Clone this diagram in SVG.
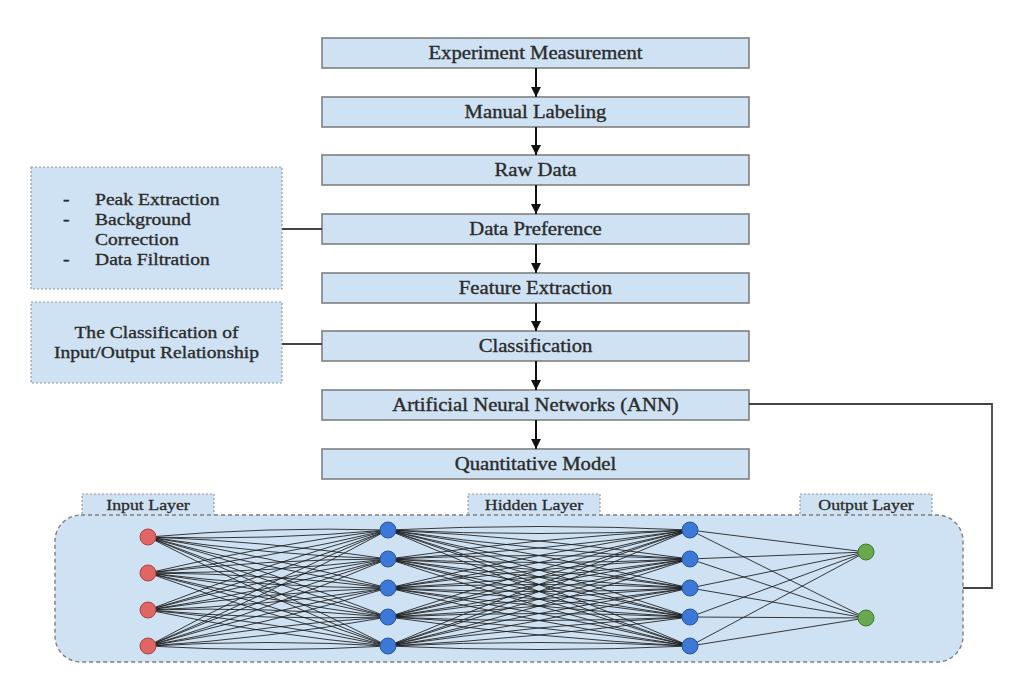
<svg xmlns="http://www.w3.org/2000/svg" width="1022" height="676" viewBox="0 0 1022 676">
<defs>
<marker id="arr" viewBox="0 0 10 10" refX="10" refY="5" markerWidth="10" markerHeight="10" markerUnits="userSpaceOnUse" orient="auto">
<path d="M0 0 L10 5 L0 10 Z" fill="#111"/>
</marker>
<style>
.box{fill:#cfe2f3;stroke:#7f7f7f;stroke-width:1.6}
.note{fill:#cfe2f3;stroke:#9a9a9a;stroke-width:1.2;stroke-dasharray:2 2}
.t{font-family:"Liberation Serif","Times New Roman",serif;font-size:18px;fill:#2b2b2b;stroke:#2b2b2b;stroke-width:0.35;text-anchor:middle}
.n{font-family:"Liberation Serif","Times New Roman",serif;font-size:17.5px;fill:#2b2b2b;stroke:#2b2b2b;stroke-width:0.35}
.l{font-family:"Liberation Serif","Times New Roman",serif;font-size:15.5px;fill:#2b2b2b;stroke:#2b2b2b;stroke-width:0.3;text-anchor:middle}
.arrow{stroke:#111;stroke-width:2;fill:none;marker-end:url(#arr)}
.link{stroke:#444;stroke-width:1.8;fill:none}
.w{stroke:#1a1a1a;stroke-width:1;fill:none;opacity:0.85}
.in{fill:#e06666;stroke:#a94442;stroke-width:1}
.hid{fill:#3c78d8;stroke:#2a5597;stroke-width:1}
.out{fill:#6aa84f;stroke:#3f7a2e;stroke-width:1}
</style>
</defs>
<rect width="1022" height="676" fill="#ffffff"/>

<g id="node-experiment"><rect class="box" x="322" y="38" width="427" height="30"/><text class="t" transform="translate(535.5 59) scale(1.15 1)">Experiment Measurement</text></g>
<g id="node-labeling"><rect class="box" x="322" y="97" width="427" height="30"/><text class="t" transform="translate(535.5 118) scale(1.15 1)">Manual Labeling</text></g>
<g id="node-raw"><rect class="box" x="322" y="155" width="427" height="30"/><text class="t" transform="translate(535.5 176) scale(1.15 1)">Raw Data</text></g>
<g id="node-preference"><rect class="box" x="322" y="214" width="427" height="30"/><text class="t" transform="translate(535.5 235) scale(1.15 1)">Data Preference</text></g>
<g id="node-feature"><rect class="box" x="322" y="273" width="427" height="30"/><text class="t" transform="translate(535.5 294) scale(1.15 1)">Feature Extraction</text></g>
<g id="node-classification"><rect class="box" x="322" y="331" width="427" height="30"/><text class="t" transform="translate(535.5 352) scale(1.15 1)">Classification</text></g>
<g id="node-ann"><rect class="box" x="322" y="390" width="427" height="30"/><text class="t" transform="translate(535.5 411) scale(1.15 1)">Artificial Neural Networks (ANN)</text></g>
<g id="node-quant"><rect class="box" x="322" y="449" width="427" height="30"/><text class="t" transform="translate(535.5 470) scale(1.15 1)">Quantitative Model</text></g>

<g id="note-preprocess">
<rect class="note" x="31" y="167" width="251" height="122"/>
<text class="n" transform="translate(63 205) scale(1.12 1)">-</text>
<text class="n" transform="translate(95 205) scale(1.12 1)">Peak Extraction</text>
<text class="n" transform="translate(63 225) scale(1.12 1)">-</text>
<text class="n" transform="translate(95 225) scale(1.12 1)">Background</text>
<text class="n" transform="translate(95 245) scale(1.12 1)">Correction</text>
<text class="n" transform="translate(63 265) scale(1.12 1)">-</text>
<text class="n" transform="translate(95 265) scale(1.12 1)">Data Filtration</text>
</g>
<g id="note-classification">
<rect class="note" x="31" y="302" width="251" height="81"/>
<text class="n" text-anchor="middle" transform="translate(156.5 338) scale(1.12 1)">The Classification of</text>
<text class="n" text-anchor="middle" transform="translate(156.5 358) scale(1.12 1)">Input/Output Relationship</text>
</g>

<g id="network">
<rect x="82" y="494" width="132" height="22" fill="#cfe2f3" stroke="#9a9a9a" stroke-width="1.2" stroke-dasharray="2 2"/>
<rect x="468" y="494" width="132" height="22" fill="#cfe2f3" stroke="#9a9a9a" stroke-width="1.2" stroke-dasharray="2 2"/>
<rect x="800" y="494" width="132" height="22" fill="#cfe2f3" stroke="#9a9a9a" stroke-width="1.2" stroke-dasharray="2 2"/>
<rect x="55" y="515" width="908" height="147" rx="26" ry="26" fill="#cfe2f3" stroke="#7f7f7f" stroke-width="1.4" stroke-dasharray="4 3"/>
<text class="l" transform="translate(148 510) scale(1.15 1)">Input Layer</text>
<text class="l" transform="translate(534 510) scale(1.15 1)">Hidden Layer</text>
<text class="l" transform="translate(866 510) scale(1.15 1)">Output Layer</text>
<g id="weights">
<path class="w" d="M148 537 Q268 526.5 388 530 M148 537 Q268 540.5 388 530 M148 537 Q268 541 388 559 M148 537 Q268 555 388 559 M148 537 Q268 555.5 388 588 M148 537 Q268 569.5 388 588 M148 537 Q268 570 388 617 M148 537 Q268 584 388 617 M148 537 Q268 584.5 388 646 M148 537 Q268 598.5 388 646"/>
<path class="w" d="M148 573 Q268 544.5 388 530 M148 573 Q268 558.5 388 530 M148 573 Q268 559 388 559 M148 573 Q268 573 388 559 M148 573 Q268 573.5 388 588 M148 573 Q268 587.5 388 588 M148 573 Q268 588 388 617 M148 573 Q268 602 388 617 M148 573 Q268 602.5 388 646 M148 573 Q268 616.5 388 646"/>
<path class="w" d="M148 610 Q268 563 388 530 M148 610 Q268 577 388 530 M148 610 Q268 577.5 388 559 M148 610 Q268 591.5 388 559 M148 610 Q268 592 388 588 M148 610 Q268 606 388 588 M148 610 Q268 606.5 388 617 M148 610 Q268 620.5 388 617 M148 610 Q268 621 388 646 M148 610 Q268 635 388 646"/>
<path class="w" d="M148 646 Q268 581 388 530 M148 646 Q268 595 388 530 M148 646 Q268 595.5 388 559 M148 646 Q268 609.5 388 559 M148 646 Q268 610 388 588 M148 646 Q268 624 388 588 M148 646 Q268 624.5 388 617 M148 646 Q268 638.5 388 617 M148 646 Q268 639 388 646 M148 646 Q268 653 388 646"/>
<path class="w" d="M388 530 Q539 523 690 530 M388 530 Q539 537 690 530 M388 530 Q539 537.5 690 559 M388 530 Q539 551.5 690 559 M388 530 Q539 552 690 588 M388 530 Q539 566 690 588 M388 530 Q539 566.5 690 617 M388 530 Q539 580.5 690 617 M388 530 Q539 581 690 646 M388 530 Q539 595 690 646"/>
<path class="w" d="M388 559 Q539 537.5 690 530 M388 559 Q539 551.5 690 530 M388 559 Q539 552 690 559 M388 559 Q539 566 690 559 M388 559 Q539 566.5 690 588 M388 559 Q539 580.5 690 588 M388 559 Q539 581 690 617 M388 559 Q539 595 690 617 M388 559 Q539 595.5 690 646 M388 559 Q539 609.5 690 646"/>
<path class="w" d="M388 588 Q539 552 690 530 M388 588 Q539 566 690 530 M388 588 Q539 566.5 690 559 M388 588 Q539 580.5 690 559 M388 588 Q539 581 690 588 M388 588 Q539 595 690 588 M388 588 Q539 595.5 690 617 M388 588 Q539 609.5 690 617 M388 588 Q539 610 690 646 M388 588 Q539 624 690 646"/>
<path class="w" d="M388 617 Q539 566.5 690 530 M388 617 Q539 580.5 690 530 M388 617 Q539 581 690 559 M388 617 Q539 595 690 559 M388 617 Q539 595.5 690 588 M388 617 Q539 609.5 690 588 M388 617 Q539 610 690 617 M388 617 Q539 624 690 617 M388 617 Q539 624.5 690 646 M388 617 Q539 638.5 690 646"/>
<path class="w" d="M388 646 Q539 581 690 530 M388 646 Q539 595 690 530 M388 646 Q539 595.5 690 559 M388 646 Q539 609.5 690 559 M388 646 Q539 610 690 588 M388 646 Q539 624 690 588 M388 646 Q539 624.5 690 617 M388 646 Q539 638.5 690 617 M388 646 Q539 639 690 646 M388 646 Q539 653 690 646"/>
<path class="w" d="M690 530 L866 552 M690 530 L866 618 M690 559 L866 552 M690 559 L866 618 M690 588 L866 552 M690 588 L866 618 M690 617 L866 552 M690 617 L866 618 M690 646 L866 552 M690 646 L866 618"/>
</g>
<g id="input-nodes">
<circle class="in" cx="148" cy="537" r="8"/><circle class="in" cx="148" cy="573" r="8"/><circle class="in" cx="148" cy="610" r="8"/><circle class="in" cx="148" cy="646" r="8"/>
</g>
<g id="hidden-nodes">
<circle class="hid" cx="388" cy="530" r="8"/><circle class="hid" cx="388" cy="559" r="8"/><circle class="hid" cx="388" cy="588" r="8"/><circle class="hid" cx="388" cy="617" r="8"/><circle class="hid" cx="388" cy="646" r="8"/>
<circle class="hid" cx="690" cy="530" r="8"/><circle class="hid" cx="690" cy="559" r="8"/><circle class="hid" cx="690" cy="588" r="8"/><circle class="hid" cx="690" cy="617" r="8"/><circle class="hid" cx="690" cy="646" r="8"/>
</g>
<g id="output-nodes">
<circle class="out" cx="866" cy="552" r="8"/><circle class="out" cx="866" cy="618" r="8"/>
</g>
</g>

<g id="connectors">
<line class="arrow" x1="536" y1="68" x2="536" y2="97"/>
<line class="arrow" x1="536" y1="127" x2="536" y2="155"/>
<line class="arrow" x1="536" y1="185" x2="536" y2="214"/>
<line class="arrow" x1="536" y1="244" x2="536" y2="273"/>
<line class="arrow" x1="536" y1="303" x2="536" y2="331"/>
<line class="arrow" x1="536" y1="361" x2="536" y2="390"/>
<line class="arrow" x1="536" y1="420" x2="536" y2="449"/>
<line class="link" x1="282" y1="229" x2="322" y2="229"/>
<line class="link" x1="282" y1="344" x2="322" y2="344"/>
<polyline class="link" points="749,404 992,404 992,588 963,588"/>
</g>
</svg>
